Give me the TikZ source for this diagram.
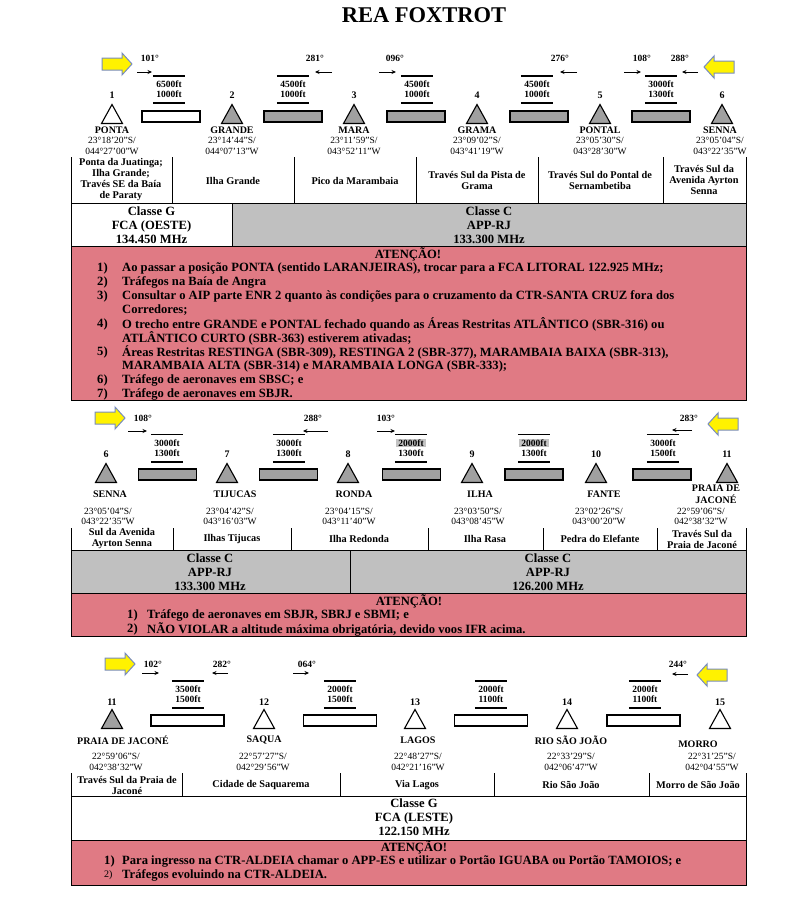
\documentclass[tikz,border=0pt]{standalone}
\usepackage{fontspec}
\setmainfont{Liberation Serif}
\usetikzlibrary{arrows.meta}
\definecolor{boxgray}{RGB}{192,192,192}
\definecolor{seggray}{RGB}{160,160,160}
\definecolor{alertpink}{RGB}{224,122,132}
\definecolor{hlgray}{RGB}{196,196,196}
\definecolor{arrowedge}{RGB}{120,140,190}

\begin{document}
\begin{tikzpicture}[y=-1pt,x=1pt,
	num/.style={font=\bfseries\fontsize{10}{11}\selectfont, inner sep=0},
	fix/.style={font=\bfseries\fontsize{10}{12}\selectfont, inner sep=0, align=center},
	latlon/.style={font=\fontsize{9.5}{10.3}\selectfont, inner sep=0, align=center},
	cell/.style={font=\bfseries\fontsize{10.3}{11}\selectfont, inner sep=0, align=center},
	deg/.style={font=\bfseries\fontsize{9.5}{10}\selectfont, inner sep=0},
	alt/.style={font=\bfseries\fontsize{9.5}{10}\selectfont, inner sep=0, align=center, minimum width=32, minimum height=27},
	altline/.style={line width=1.6pt},
	dir/.style={-{Stealth[length=4.5pt,width=4pt]}, line width=0.9pt},
	freq/.style={font=\bfseries\fontsize{12.6}{14}\selectfont, inner sep=0, align=center},
	warn/.style={font=\bfseries\fontsize{12.6}{14}\selectfont, inner sep=0, anchor=base},
	note/.style={font=\bfseries\fontsize{12.6}{14}\selectfont, inner sep=0, anchor=west},
	wp/.style={draw, line width=1.1pt, fill=white},
	wpg/.style={draw, line width=1.1pt, fill=seggray},
	yel/.style={draw=arrowedge, fill=yellow, line width=1pt}
]
	\newcommand\Tri{+(0,-9.5) -- +(10.5,9.5) -- +(-10.5,9.5) -- cycle}
	\newcommand\Seg{+(-29,-5.5) rectangle +(29,5.5)}
	\newcommand\LSeg{+(-36.5,-5.5) rectangle +(36.5,5.5)}
	\newcommand\RArrow{+(-15,-6) -- +(5,-6) -- +(5,-11) -- +(15,0) -- +(5,11) -- +(5,6) -- +(-15,6) -- cycle}
	\newcommand\LArrow{+(15,-6) -- +(-5,-6) -- +(-5,-11) -- +(-15,0) -- +(-5,11) -- +(-5,6) -- +(15,6) -- cycle}
	\newcommand\Bars[1]{\draw[altline] (#1.north west) -- (#1.north east) (#1.south west) -- (#1.south east);}
	\newcommand\HL[1]{{\setlength{\fboxsep}{0.6pt}\colorbox{hlgray}{\makebox[29pt]{#1}}}}

	\useasboundingbox (0,0) rectangle (808,924);
	\node[font=\bfseries\fontsize{22.5}{25}\selectfont, inner sep=0] (title) at (424,15) {REA FOXTROT};

	% corredor 1 -> 6
	\draw[yel] (117,64) \RArrow;
	\draw[yel] (719,67) \LArrow;
	\node[deg] (da1) at (150,58) {101°};
	\node[deg] (da2) at (315,58) {281°};
	\node[deg] (da3) at (395,58) {096°};
	\node[deg] (da4) at (560,58) {276°};
	\node[deg] (da5) at (642,58) {108°};
	\node[deg] (da6) at (680,58) {288°};
	\draw[dir] (137,72) -- (152,72);
	\draw[dir] (332,72) -- (315,72);
	\draw[dir] (379,72) -- (396,72);
	\draw[dir] (577,72) -- (560,72);
	\draw[dir] (624,72) -- (641,72);
	\draw[dir] (698,72) -- (682,72);

	\node[alt] (ha1) at (169,89.5) {6500ft\\1000ft}; \Bars{ha1}
	\node[alt] (ha2) at (293,89.5) {4500ft\\1000ft}; \Bars{ha2}
	\node[alt] (ha3) at (417,89.5) {4500ft\\1000ft}; \Bars{ha3}
	\node[alt] (ha4) at (537,89.5) {4500ft\\1000ft}; \Bars{ha4}
	\node[alt] (ha5) at (661,89.5) {3000ft\\1300ft}; \Bars{ha5}

	\node[num] (na1) at (112,95) {1};
	\node[num] (na2) at (232,95) {2};
	\node[num] (na3) at (354,95) {3};
	\node[num] (na4) at (477,95) {4};
	\node[num] (na5) at (600,95) {5};
	\node[num] (na6) at (722,95) {6};
	\draw[wp] (112,114) \Tri;
	\draw[wpg] (232,114) \Tri;
	\draw[wpg] (354,114) \Tri;
	\draw[wpg] (477,114) \Tri;
	\draw[wpg] (600,114) \Tri;
	\draw[wpg] (722,114) \Tri;
	\draw[wp] (171,116.5) \Seg;
	\draw[wpg] (293,116.5) \Seg;
	\draw[wpg] (416,116.5) \Seg;
	\draw[wpg] (539,116.5) \Seg;
	\draw[wpg] (661,116.5) \Seg;

	\node[fix] (fa1) at (112,130) {PONTA};
	\node[fix] (fa2) at (232,130) {GRANDE};
	\node[fix] (fa3) at (354,130) {MARA};
	\node[fix] (fa4) at (477,130) {GRAMA};
	\node[fix] (fa5) at (600,130) {PONTAL};
	\node[fix] (fa6) at (720,130) {SENNA};
	\node[latlon] (pa1) at (112,146) {23°18'20''S/\\044°27'00''W};
	\node[latlon] (pa2) at (232,146) {23°14'44''S/\\044°07'13''W};
	\node[latlon] (pa3) at (354,146) {23°11'59''S/\\043°52'11''W};
	\node[latlon] (pa4) at (477,146) {23°09'02''S/\\043°41'19''W};
	\node[latlon] (pa5) at (600,146) {23°05'30''S/\\043°28'30''W};
	\node[latlon] (pa6) at (720,146) {23°05'04''S/\\043°22'35''W};

	\draw (71,157) -- (71,203);
	\draw (172,157) -- (172,203);
	\draw (294,157) -- (294,203);
	\draw (416,157) -- (416,203);
	\draw (538,157) -- (538,203);
	\draw (663,157) -- (663,203);
	\draw (746,157) -- (746,203);
	\node[cell] (ca1) at (121,180) {Ponta da Juatinga;\\Ilha Grande;\\Través SE da Baía\\de Paraty};
	\node[cell] (ca2) at (233,181) {Ilha Grande};
	\node[cell] (ca3) at (355,181) {Pico da Marambaia};
	\node[cell] (ca4) at (477,180) {Través Sul da Pista de\\Grama};
	\node[cell] (ca5) at (600,180) {Través Sul do Pontal de\\Sernambetiba};
	\node[cell] (ca6) at (704,180) {Través Sul da\\Avenida Ayrton\\Senna};

	\draw[fill=white] (71,203) rectangle (232,246);
	\draw[fill=boxgray] (232,203) rectangle (746,246);
	\node[freq] (ka1) at (151.5,225) {Classe G\\FCA (OESTE)\\134.450 MHz};
	\node[freq] (ka2) at (489,225) {Classe C\\APP-RJ\\133.300 MHz};

	\draw[fill=alertpink] (71,246) rectangle (746,400);
	\node[warn] (wa) at (408,258) {ATENÇÃO!};
	\node[note] (ia1) at (97,268) {1)};
	\node[note] (ta1) at (122,268) {Ao passar a posição PONTA (sentido LARANJEIRAS), trocar para a FCA LITORAL 122.925 MHz;};
	\node[note] (ia2) at (97,282) {2)};
	\node[note] (ta2) at (122,282) {Tráfegos na Baía de Angra};
	\node[note] (ia3) at (97,296) {3)};
	\node[note] (ta3) at (122,296) {Consultar o AIP parte ENR 2 quanto às condições para o cruzamento da CTR-SANTA CRUZ fora dos};
	\node[note] (ta3b) at (122,310) {Corredores;};
	\node[note] (ia4) at (97,324) {4)};
	\node[note] (ta4) at (122,324) {O trecho entre GRANDE e PONTAL fechado quando as Áreas Restritas ATLÂNTICO (SBR-316) ou};
	\node[note] (ta4b) at (122,338) {ATLÂNTICO CURTO (SBR-363) estiverem ativadas;};
	\node[note] (ia5) at (97,352) {5)};
	\node[note] (ta5) at (122,352) {Áreas Restritas RESTINGA (SBR-309), RESTINGA 2 (SBR-377), MARAMBAIA BAIXA (SBR-313),};
	\node[note] (ta5b) at (122,366) {MARAMBAIA ALTA (SBR-314) e MARAMBAIA LONGA (SBR-333);};
	\node[note] (ia6) at (97,380) {6)};
	\node[note] (ta6) at (122,380) {Tráfego de aeronaves em SBSC; e};
	\node[note] (ia7) at (97,394) {7)};
	\node[note] (ta7) at (122,394) {Tráfego de aeronaves em SBJR.};

	% corredor 6 -> 11
	\draw[yel] (110,418) \RArrow;
	\draw[yel] (723,424) \LArrow;
	\node[deg] (db1) at (143,418) {108°};
	\node[deg] (db2) at (313,418) {288°};
	\node[deg] (db3) at (386,418) {103°};
	\node[deg] (db4) at (689,418) {283°};
	\draw[dir] (128,431) -- (147,431);
	\draw[dir] (328,431) -- (303,431);
	\draw[dir] (377,431) -- (395,431);
	\draw[dir] (692,430) -- (672,430);

	\node[alt] (hb1) at (167,448) {3000ft\\1300ft}; \Bars{hb1}
	\node[alt] (hb2) at (289,448) {3000ft\\1300ft}; \Bars{hb2}
	\node[alt] (hb3) at (411,448) {\HL{2000ft}\\1300ft}; \Bars{hb3}
	\node[alt] (hb4) at (534,448) {\HL{2000ft}\\1300ft}; \Bars{hb4}
	\node[alt] (hb5) at (663,448) {3000ft\\1500ft}; \Bars{hb5}

	\node[num] (nb6) at (106,454) {6};
	\node[num] (nb7) at (227,454) {7};
	\node[num] (nb8) at (348,454) {8};
	\node[num] (nb9) at (472,454) {9};
	\node[num] (nb10) at (596,454) {10};
	\node[num] (nb11) at (727,454) {11};
	\draw[wpg] (106,473) \Tri;
	\draw[wpg] (227,473) \Tri;
	\draw[wpg] (348,473) \Tri;
	\draw[wpg] (472,473) \Tri;
	\draw[wpg] (596,473) \Tri;
	\draw[wpg] (727,473) \Tri;
	\draw[wpg] (167.5,474.5) \Seg;
	\draw[wpg] (288.5,474.5) \Seg;
	\draw[wpg] (411.5,474.5) \Seg;
	\draw[wpg] (534,474.5) \Seg;
	\draw[wpg] (662,474.5) \Seg;

	\node[fix] (fb6) at (110,494) {SENNA};
	\node[fix] (fb7) at (235,494) {TIJUCAS};
	\node[fix] (fb8) at (354,494) {RONDA};
	\node[fix] (fb9) at (480,494) {ILHA};
	\node[fix] (fb10) at (604,494) {FANTE};
	\node[fix] (fb11) at (716,494) {PRAIA DE\\JACONÉ};
	\node[latlon] (pb6) at (108,516.5) {23°05'04''S/\\043°22'35''W};
	\node[latlon] (pb7) at (230,516.5) {23°04'42''S/\\043°16'03''W};
	\node[latlon] (pb8) at (349,516.5) {23°04'15''S/\\043°11'40''W};
	\node[latlon] (pb9) at (478,516.5) {23°03'50''S/\\043°08'45''W};
	\node[latlon] (pb10) at (599,516.5) {23°02'26''S/\\043°00'20''W};
	\node[latlon] (pb11) at (701,516.5) {22°59'06''S/\\042°38'32''W};

	\draw (71,528) -- (71,550);
	\draw (173,528) -- (173,550);
	\draw (291,528) -- (291,550);
	\draw (428,528) -- (428,550);
	\draw (543,528) -- (543,550);
	\draw (657,528) -- (657,550);
	\draw (746,528) -- (746,550);
	\node[cell] (cb1) at (122,539) {Sul da Avenida\\Ayrton Senna};
	\node[cell] (cb2) at (232,539) {Ilhas Tijucas};
	\node[cell] (cb3) at (359,539) {Ilha Redonda};
	\node[cell] (cb4) at (485,539) {Ilha Rasa};
	\node[cell] (cb5) at (600,539) {Pedra do Elefante};
	\node[cell] (cb6) at (702,539) {Través Sul da\\Praia de Jaconé};

	\draw[fill=boxgray] (71,550) rectangle (350,593);
	\draw[fill=boxgray] (350,550) rectangle (746,593);
	\node[freq] (kb1) at (210,572) {Classe C\\APP-RJ\\133.300 MHz};
	\node[freq] (kb2) at (548,572) {Classe C\\APP-RJ\\126.200 MHz};

	\draw[fill=alertpink] (71,593) rectangle (746,636);
	\node[warn] (wb) at (409,605) {ATENÇÃO!};
	\node[note] (ib1) at (127,615) {1)};
	\node[note] (tb1) at (147,615) {Tráfego de aeronaves em SBJR, SBRJ e SBMI; e};
	\node[note] (ib2) at (127,629) {2)};
	\node[note] (tb2) at (147,629) {NÃO VIOLAR a altitude máxima obrigatória, devido voos IFR acima.};

	% corredor 11 -> 15
	\draw[yel] (120,664) \RArrow;
	\draw[yel] (712,675) \LArrow;
	\node[deg] (dc1) at (153,664) {102°};
	\node[deg] (dc2) at (222,664) {282°};
	\node[deg] (dc3) at (307,664) {064°};
	\node[deg] (dc4) at (678,664) {244°};
	\draw[dir] (142,673) -- (159,673);
	\draw[dir] (228,673) -- (212,673);
	\draw[dir] (293,673) -- (309,673);
	\draw[dir] (688,674) -- (672,674);

	\node[alt] (hc1) at (188,694.5) {3500ft\\1500ft}; \Bars{hc1}
	\node[alt] (hc2) at (340,694.5) {2000ft\\1500ft}; \Bars{hc2}
	\node[alt] (hc3) at (491,694.5) {2000ft\\1100ft}; \Bars{hc3}
	\node[alt] (hc4) at (645,694.5) {2000ft\\1100ft}; \Bars{hc4}

	\node[num] (nc11) at (112,702) {11};
	\node[num] (nc12) at (264,702) {12};
	\node[num] (nc13) at (415,702) {13};
	\node[num] (nc14) at (567,702) {14};
	\node[num] (nc15) at (720,702) {15};
	\draw[wpg] (112,719) \Tri;
	\draw[wp] (264,719) \Tri;
	\draw[wp] (415,719) \Tri;
	\draw[wp] (567,719) \Tri;
	\draw[wp] (720,719) \Tri;
	\draw[wp] (187.5,720.5) \LSeg;
	\draw[wp] (340,720.5) \LSeg;
	\draw[wp] (491,720.5) \LSeg;
	\draw[wp] (643.5,720.5) \LSeg;

	\node[fix] (fc11) at (123,740) {PRAIA DE JACONÉ};
	\node[fix] (fc12) at (264,740) {SAQUA};
	\node[fix] (fc13) at (418,740) {LAGOS};
	\node[fix] (fc14) at (571,740) {RIO SÃO JOÃO};
	\node[fix] (fc15) at (698,744) {MORRO};
	\node[latlon] (pc11) at (116,762) {22°59'06''S/\\042°38'32''W};
	\node[latlon] (pc12) at (263,762) {22°57'27''S/\\042°29'56''W};
	\node[latlon] (pc13) at (418,762) {22°48'27''S/\\042°21'16''W};
	\node[latlon] (pc14) at (571,762) {22°33'29''S/\\042°06'47''W};
	\node[latlon] (pc15) at (712,762) {22°31'25''S/\\042°04'55''W};

	\draw (71,773) -- (71,796);
	\draw (182,773) -- (182,796);
	\draw (340,773) -- (340,796);
	\draw (494,773) -- (494,796);
	\draw (649,773) -- (649,796);
	\draw (746,773) -- (746,796);
	\node[cell] (cc1) at (127,785) {Través Sul da Praia de\\Jaconé};
	\node[cell] (cc2) at (261,785) {Cidade de Saquarema};
	\node[cell] (cc3) at (417,785) {Via Lagos};
	\node[cell] (cc4) at (571,785) {Rio São João};
	\node[cell] (cc5) at (698,785) {Morro de São João};

	\draw[fill=white] (71,796) rectangle (746,840);
	\node[freq] (kc1) at (414,817) {Classe G\\FCA (LESTE)\\122.150 MHz};

	\draw[fill=alertpink] (71,840) rectangle (746,885);
	\node[warn] (wc) at (414,851) {ATENÇÃO!};
	\node[note] (ic1) at (104,861) {1)};
	\node[note] (tc1) at (122,861) {Para ingresso na CTR-ALDEIA chamar o APP-ES e utilizar o Portão IGUABA ou Portão TAMOIOS; e};
	\node[note, font=\fontsize{10}{12}\selectfont] (ic2) at (104,875) {2)};
	\node[note] (tc2) at (122,875) {Tráfegos evoluindo na CTR-ALDEIA.};
\end{tikzpicture}
\end{document}
